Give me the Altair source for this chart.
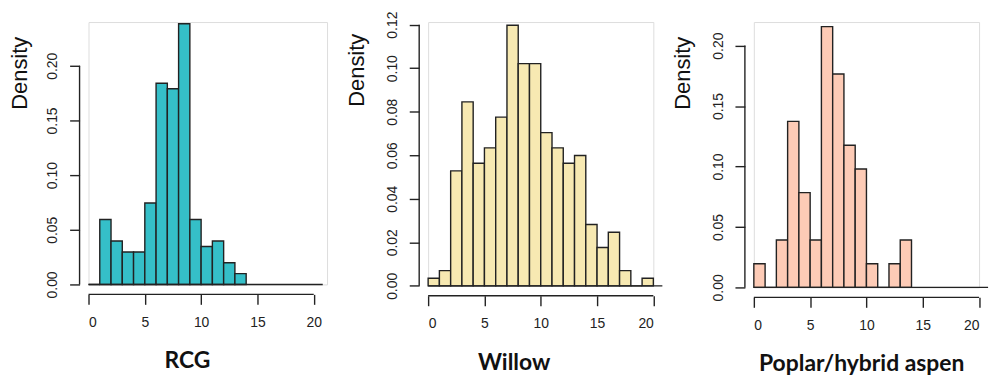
import altair as alt
import pandas as pd

# ---- data (bin left edges, width 1, density) ----
rcg_start = list(range(0, 14))
rcg_density = [0.0, 0.0594, 0.0397, 0.0297, 0.0297, 0.0745, 0.184, 0.179, 0.2385,
               0.0594, 0.0347, 0.0397, 0.0198, 0.0099]

willow_start = list(range(0, 20))
willow_density = [0.0035, 0.0070, 0.0528, 0.0845, 0.0563, 0.0634, 0.0775, 0.1197,
                  0.1021, 0.1021, 0.0704, 0.0634, 0.0563, 0.0599, 0.0282, 0.0176,
                  0.0246, 0.0070, 0.0, 0.0035]

poplar_start = list(range(0, 14))
poplar_density = [0.0196, 0.0, 0.0392, 0.1373, 0.0784, 0.0392, 0.2157, 0.1765,
                  0.1176, 0.0980, 0.0196, 0.0, 0.0196, 0.0392]

x_ticks = [0, 5, 10, 15, 20]
rcg_yticks = [0.00, 0.05, 0.10, 0.15, 0.20]
willow_yticks = [0.00, 0.02, 0.04, 0.06, 0.08, 0.10, 0.12]
poplar_yticks = [0.00, 0.05, 0.10, 0.15, 0.20]

titles = ["RCG", "Willow", "Poplar/hybrid aspen"]
colors = ["#35BFC8", "#F7E9B2", "#FDCBB6"]

INK = "#222222"
U = 11.33  # pixels per x unit


def panel(starts, dens, yticks, color, title, xhi, ymax, height, title_x, dens_x, dens_y):
    df = pd.DataFrame({"start": starts, "end": [s + 1 for s in starts], "density": dens})
    xs = alt.Scale(domain=[0, xhi], nice=False, zero=False)
    ys = alt.Scale(domain=[0, ymax], nice=False, zero=True)
    width = xhi * U
    bars = alt.Chart(df).mark_rect(
        color=color, stroke=INK, strokeWidth=1.4, clip=False
    ).encode(
        x=alt.X("start:Q", scale=xs, axis=alt.Axis(
            values=x_ticks, offset=10, domain=False, grid=False, tickSize=10,
            tickWidth=1.4, tickColor=INK,
            labelFont="Liberation Sans", labelFontSize=14, labelColor=INK,
            labelPadding=11, title=title, titleFont="Lato", titleFontSize=23,
            titleFontWeight="bold", titleColor="#111111",
            titleX=title_x, titleY=74, titleBaseline="alphabetic")),
        x2="end:Q",
        y=alt.Y("density:Q", scale=ys, axis=alt.Axis(
            values=yticks, format=".2f", offset=9, domain=False, grid=False,
            tickSize=10, tickWidth=1.4, tickColor=INK,
            labelFont="Liberation Sans", labelFontSize=14, labelColor=INK,
            labelAngle=270, labelAlign="center", labelBaseline="bottom",
            labelPadding=10, title="Density", titleFont="Liberation Sans",
            titleFontSize=22, titleFontWeight="normal", titleColor="#111111",
            titleAngle=270, titleX=dens_x, titleY=dens_y,
            titleBaseline="middle", titleAlign="center")),
    )
    base = alt.Chart(pd.DataFrame({"a": [0.0], "b": [20.8], "z": [0.0]})).mark_rule(
        color=INK, strokeWidth=1.4, clip=False
    ).encode(x=alt.X("a:Q", scale=xs), x2="b:Q", y=alt.Y("z:Q", scale=ys))
    yaxis_line = alt.Chart(pd.DataFrame({"lo": [0.0], "hi": [yticks[-1]]})).mark_rule(
        color=INK, strokeWidth=1.4, clip=False
    ).encode(x=alt.value(-9), y=alt.Y("lo:Q", scale=ys), y2="hi:Q")
    xaxis_line = alt.Chart(pd.DataFrame({"lo": [x_ticks[0]], "hi": [x_ticks[-1]]})).mark_rule(
        color=INK, strokeWidth=1.4, clip=False
    ).encode(x=alt.X("lo:Q", scale=xs), x2="hi:Q", y=alt.value(height + 10))
    return alt.layer(bars, base, yaxis_line, xaxis_line).properties(width=width, height=height)


p1 = panel(rcg_start, rcg_density, rcg_yticks, colors[0], titles[0],
           21.183, 0.24, 264.0, 99, -60, 51)
p2 = panel(willow_start, willow_density, willow_yticks, colors[1], titles[1],
           20.0, 0.1212, 265.4, 86, -63, 48)
p3 = panel(poplar_start, poplar_density, poplar_yticks, colors[2], titles[2],
           20.0, 0.2195, 267.0, 108, -63, 51)

chart = alt.hconcat(p1, p2, p3, spacing=100.7, bounds="flush").properties(
    padding={"left": 0, "top": 1, "right": 0, "bottom": 0}
).configure_view(stroke=None).configure(background="white")

chart.save("out.html", embed_options={"renderer": "svg", "actions": False})
